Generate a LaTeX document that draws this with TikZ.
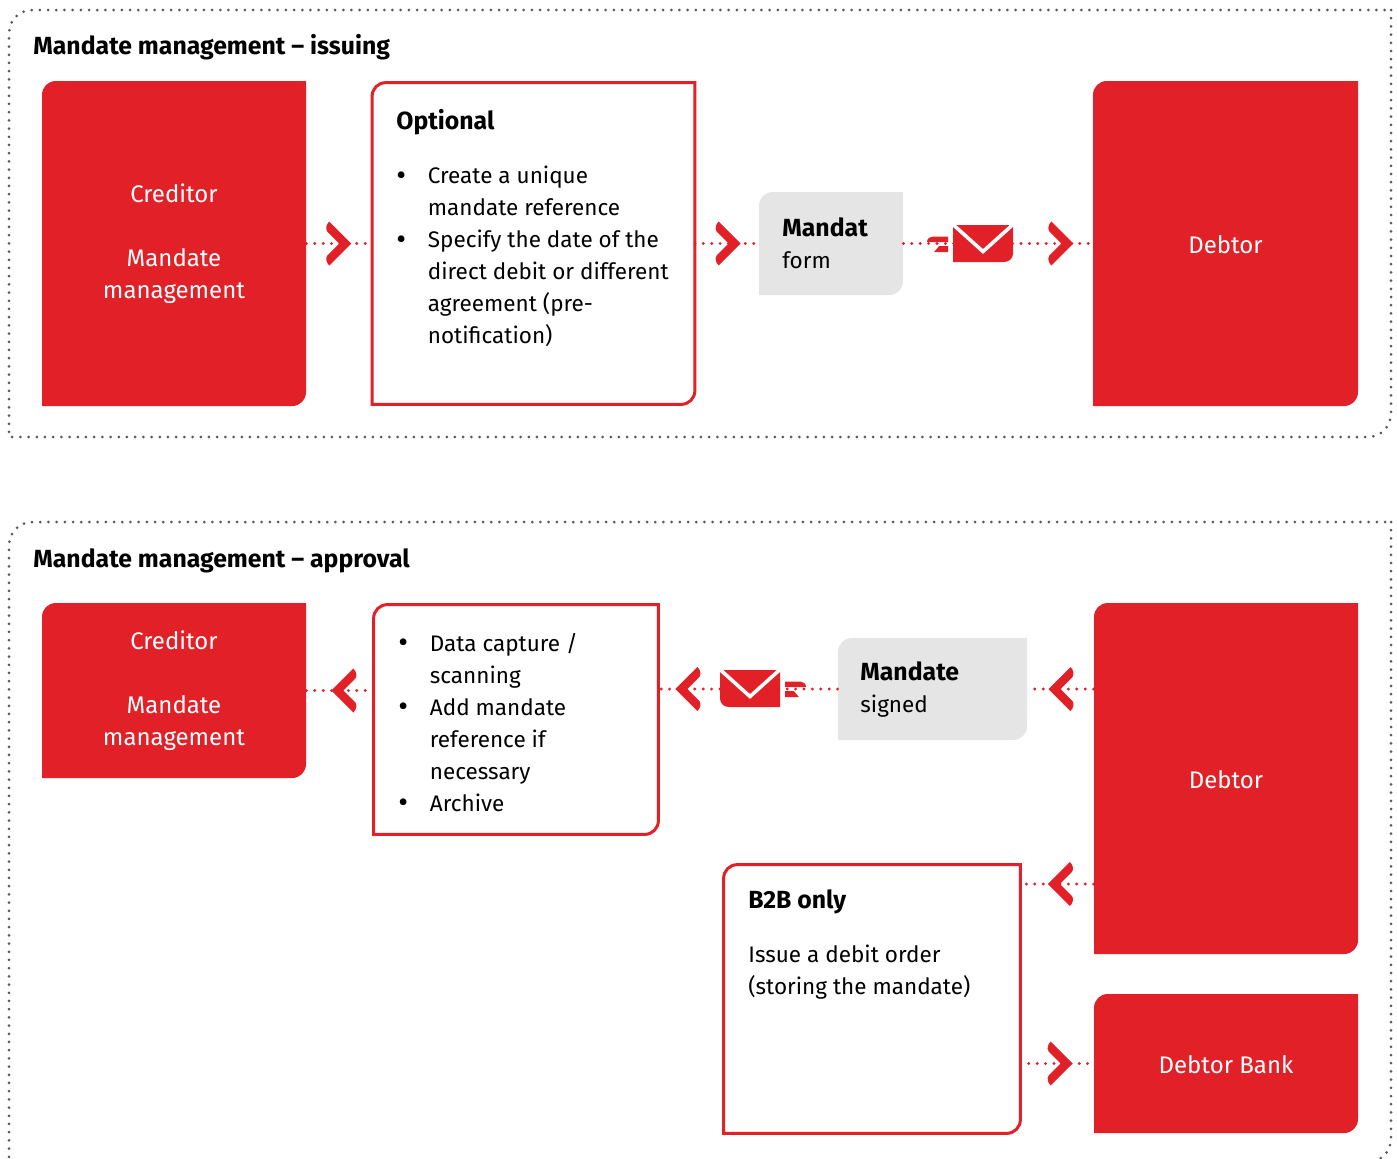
\documentclass[tikz,border=0pt]{standalone}
\usepackage{fontspec}
\setmainfont{Fira Sans}
\usetikzlibrary{positioning,calc}

\definecolor{boxred}{HTML}{E12027}
\definecolor{boxgray}{HTML}{E5E5E5}
\definecolor{framegray}{HTML}{5A5A5A}

% both rounded corners of a box, top left and bottom right
\newcommand{\leafpath}[1]{
	($(#1.south west)$) -- ($(#1.north west)+(0,14)$)
	.. controls ($(#1.north west)+(0,6)$) and ($(#1.north west)+(6,0)$) .. ($(#1.north west)+(14,0)$)
	-- (#1.north east) -- ($(#1.south east)+(0,-14)$)
	.. controls ($(#1.south east)+(0,-6)$) and ($(#1.south east)+(-6,0)$) .. ($(#1.south east)+(-14,0)$)
	-- cycle}
\newcommand{\bitem}[1]{\makebox[16pt][l]{#1}}
\newcommand{\bdot}{\makebox[16pt][l]{\hspace{0.2pt}\fontsize{15}{16}\selectfont\raisebox{-0.6pt}{\textbullet}}}
\newcommand{\headfont}{\fontsize{12.4}{16}\selectfont\bfseries}

\tikzset{
	redbox/.style={font=\fontsize{12}{16}\selectfont,text=white,align=center,inner sep=0,
		minimum width=#1,
		path picture={\fill[boxred] \leafpath{path picture bounding box};}},
	lift/.style={execute at begin node={\rule{0pt}{#1}}},
	graybox/.style={inner sep=0,minimum width=#1,
		path picture={\fill[boxgray] \leafpath{path picture bounding box};}},
	linebox/.style={inner sep=0,minimum width=#1,
		append after command={\pgfextra{\draw[boxred,line width=1.5pt] \leafpath{\tikzlastnode};}}},
	boxtext/.style={font=\fontsize{11.25}{16}\selectfont,align=left,inner sep=0,anchor=north west},
	boxtitle/.style={font=\headfont,inner sep=0,anchor=base west},
	frameline/.style={framegray,line width=1.5pt,line cap=round,dash pattern=on 0pt off 4.1pt},
	link/.style={boxred,line width=1.6pt,line cap=round,dash pattern=on 0pt off 4.2pt},
	chevron/.pic={
		\fill[boxred,solid] (12,0) -- (-10,-22) .. controls (-13,-19) and (-14,-15) .. (-12,-12)
			-- (0,0) -- (-12,12) .. controls (-14,15) and (-13,19) .. (-10,22) -- cycle;},
	mailicon/.pic={
		\fill[boxred,solid] (-30,-18.5) -- (30,-18.5) -- (30,10) .. controls (30,15) and (26,18.5) .. (21,18.5)
			-- (-30,18.5) -- cycle;
		\draw[white,solid,line width=1.8pt,line cap=butt] (-30,-19) -- (0,8) -- (30,-19);
		\fill[boxred,solid] (-56,-1.5) .. controls (-56,-5) and (-53,-7) .. (-50,-7) -- (-35,-7) -- (-35,-1.5) -- cycle;
		\fill[boxred,solid] (-44,2.7) -- (-35,2.7) -- (-35,8.7) -- (-49,8.7) -- cycle;},
}

\begin{document}
\begin{tikzpicture}[x=0.5pt,y=-0.5pt]
	\useasboundingbox (0,0) rectangle (1397,1158);

	% dotted frames
	\draw[frameline] (1391,10) -- (1391,413) .. controls (1391,427) and (1381,437) .. (1367,437)
		-- (9,437) -- (9,34) .. controls (9,20) and (19,10) .. (33,10) -- cycle;
	\draw[frameline] (1391,522) -- (1391,1138) .. controls (1391,1152) and (1381,1162) .. (1367,1162)
		-- (9,1162) -- (9,546) .. controls (9,532) and (19,522) .. (33,522) -- cycle;

	\node[boxtitle] (title1) at (33,54) {Mandate management – issuing};
	\node[boxtitle] (title2) at (33,567) {Mandate management – approval};

	% issuing
	\node[redbox=132pt,lift=12.4pt,minimum height=162.5pt] (creditor1) at (174,243.5)
		{Creditor\\[16pt]Mandate\\management};
	\node[linebox=161pt,minimum height=160.5pt] (optional) at (533.5,243.5) {};
	\node[graybox=72pt,minimum height=51.5pt] (form1) at (831,243.5) {};
	\node[redbox=132.5pt,lift=10.4pt,minimum height=162.5pt] (debtor1) at (1225.5,243.5) {Debtor};

	\node[boxtitle] (optionalhead) at (396,129) {Optional};
	\node[boxtext] (optionaltext) at (395.5,166) {\bdot Create a unique\\
		\bitem{}mandate reference\\
		\bdot Specify the date of the\\
		\bitem{}direct debit or different\\
		\bitem{}agreement (pre-\\
		\bitem{}notification)};
	\node[boxtext] (formtext) at (782,217) {{\headfont Mandat}\\form};

	\draw[link] (creditor1) -- pic[pos=.5]{chevron} (optional);
	\draw[link] (optional) -- pic[pos=.53]{chevron} (form1);
	\draw[link] (form1) -- pic[pos=.835]{chevron} (debtor1);
	\coordinate (mail1) at (983,243.5);
	\pic at (mail1) {mailicon};

	% approval
	\node[redbox=132pt,lift=12.4pt,minimum height=87.5pt] (creditor2) at (174,690.5)
		{Creditor\\[16pt]Mandate\\management};
	\node[linebox=142pt,minimum height=114.5pt] (capture) at (516,719.5) {};
	\node[graybox=94.5pt,minimum height=51pt] (signed) at (932.5,689) {};
	\node[redbox=132pt,lift=10.4pt,minimum height=175.5pt] (debtor2) at (1226,778.5) {Debtor};
	\node[linebox=148pt,minimum height=134pt] (btob) at (872,999) {};
	\node[redbox=132pt,lift=10.4pt,minimum height=69.5pt] (bank) at (1226,1063.5) {Debtor Bank};

	\node[boxtext] (capturetext) at (397.5,633) {\bdot Data capture /\\
		\bitem{}scanning\\
		\bdot Add mandate\\
		\bitem{}reference if\\
		\bitem{}necessary\\
		\bdot Archive};
	\node[boxtext] (signedtext) at (860,661) {{\headfont Mandate}\\signed};
	\node[boxtitle] (btobhead) at (748,908) {B2B only};
	\node[boxtext] (btobtext) at (748,945) {Issue a debit order\\(storing the mandate)};

	\coordinate (btoblevel) at (0,884);
	\draw[link] (capture.west |- creditor2.east) -- pic[pos=.45,xscale=-1]{chevron} (creditor2.east);
	\draw[link] (signed.west) -- pic[pos=.838,xscale=-1]{chevron} (signed.west -| capture.east);
	\draw[link] (debtor2.west |- signed.east) -- pic[pos=.5,xscale=-1]{chevron} (signed.east);
	\draw[link] (debtor2.west |- btoblevel) -- pic[pos=.46,xscale=-1]{chevron} (btob.east |- btoblevel);
	\draw[link] (btob.east |- bank.west) -- pic[pos=.55]{chevron} (bank.west);
	\coordinate (mail2) at (750,688.5);
	\pic[xscale=-1] at (mail2) {mailicon};
\end{tikzpicture}
\end{document}
